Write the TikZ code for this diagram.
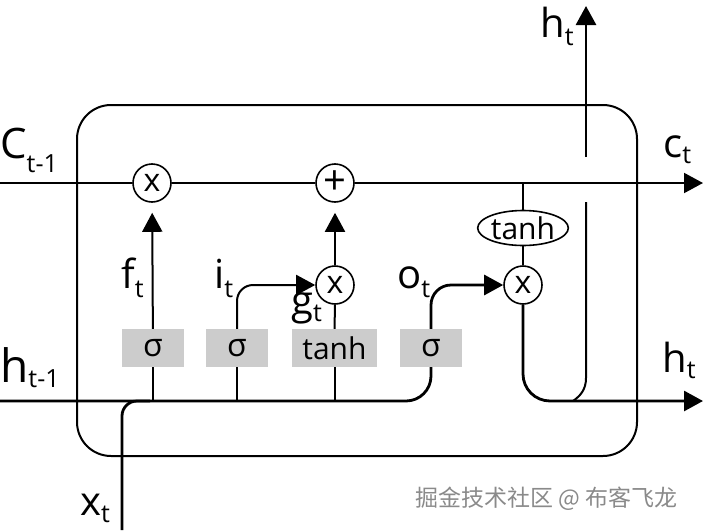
\documentclass[tikz,border=0pt]{standalone}
\usepackage{fontspec}
\setmainfont{Open Sans}
\newfontfamily\cjk{Noto Sans CJK SC}
\usetikzlibrary{arrows.meta,shapes.geometric}
\definecolor{boxgray}{HTML}{CCCCCC}
\definecolor{wmgray}{HTML}{8A8A8A}
\newcommand{\lbl}[4]{{\fontsize{#1}{#1}\selectfont #2}\raisebox{#3}{\fontsize{25}{25}\selectfont #4}}
\begin{document}
\begin{tikzpicture}[x=1pt,y=-1pt,
  thin line/.style={line width=2pt},
  thick line/.style={line width=2.8pt},
  tip/.style={-{Triangle[length=19pt,width=20pt]}},
  opcircle/.style={circle,draw,line width=1.6pt,fill=white,minimum size=38pt,inner sep=0pt,font=\fontsize{32}{32}\selectfont},
  gatebox/.style={rectangle,fill=boxgray,minimum height=38pt,inner sep=0pt,font=\fontsize{32}{32}\selectfont},
  lab/.style={anchor=base west,inner sep=0pt}]
\useasboundingbox (0,0) rectangle (703,530);

% main cell box
\draw[line width=2pt,rounded corners=34pt] (77,105) rectangle (637,456);

% nodes
\node[opcircle] (mf) at (152,183) {\raisebox{1pt}{x}};
\node[opcircle,font=\fontsize{40}{40}\selectfont] (pl) at (335,183) {\raisebox{1pt}{+}};
\node[opcircle] (mi) at (335,285) {\raisebox{1pt}{x}};
\node[opcircle] (mo) at (523,285) {\raisebox{1pt}{x}};
\node[ellipse,draw,line width=1.6pt,fill=white,minimum width=90pt,minimum height=35pt,inner sep=0pt,font=\fontsize{30}{30}\selectfont] (th) at (523,228) {tanh};
\node[gatebox,minimum width=62pt] (s1) at (153,348) {σ};
\node[gatebox,minimum width=62pt] (s2) at (237,348) {σ};
\node[gatebox,minimum width=85pt,font=\fontsize{30}{30}\selectfont] (s3) at (334.5,348) {tanh};
\node[gatebox,minimum width=62pt] (s4) at (431,348) {σ};

% coordinates
\coordinate (cin) at (0,183);
\coordinate (cout) at (703,183);
\coordinate (ct) at (523,183);
\coordinate (hin) at (0,401);
\coordinate (hout) at (703,401);
\coordinate (xin) at (122,530);
\coordinate (xj) at (150,401);
\coordinate (j1) at (153,401);
\coordinate (j2) at (237,401);
\coordinate (j3) at (334.5,401);
\coordinate (hc) at (431,401);
\coordinate (up1) at (586,202);
\coordinate (up2) at (586,378);
\coordinate (upj) at (573,401);
\coordinate (up3) at (586,157);
\coordinate (uptip) at (586,6);

% label g_t (under arrows)
\node[lab] (gl) at (291,314) {\lbl{40}{g}{-7pt}{t}};

% cell state line
\draw[thin line] (cin) -- (mf);
\draw[thin line] (mf) -- (pl);
\draw[thin line,tip] (pl) -- (cout);
\draw[thin line] (ct) -- (th);
\draw[thin line] (th) -- (mo);

% hidden state input
\draw[thick line,rounded corners=25pt] (hin) -- (hc) -- (s4.south);
\draw[thick line,rounded corners=15pt] (xin) |- (xj);
\draw[thin line] (j1) -- (s1);
\draw[thin line] (j2) -- (s2);
\draw[thin line] (j3) -- (s3);

% gates
\draw[thin line,tip,shorten >=10pt] (s1) -- (mf);
\draw[thin line,tip,rounded corners=16pt] (s2.north) |- (mi.west);
\draw[thin line] (s3) -- (mi);
\draw[thin line,tip,shorten >=10pt] (mi) -- (pl);
\draw[thick line,tip,rounded corners=20pt] (s4.north) |- (mo.west);

% output
\draw[thick line,tip,rounded corners=27pt] (mo.south) |- (hout);
\draw[thin line] (up1) -- (up2) .. controls (586,390) and (580,396) .. (upj);
\draw[thick line,tip] (up3) -- (uptip);

% labels
\node[lab] (lc0) at (0,158) {\lbl{42}{C}{-14pt}{t-1}};
\node[lab] (lc1) at (663,157) {\lbl{40}{c}{-6pt}{t}};
\node[lab] (lh2) at (540,37) {\lbl{40}{h}{-8pt}{t}};
\node[lab] (lf) at (121,288) {\lbl{40}{f}{-9pt}{t}};
\node[lab] (li) at (214,288) {\lbl{40}{i}{-9pt}{t}};
\node[lab] (lo) at (397,288) {\lbl{40}{o}{-9pt}{t}};
\node[lab] (lh0) at (0,382) {\lbl{46}{h}{-5pt}{t-1}};
\node[lab] (lh1) at (662,372) {\lbl{40}{h}{-6pt}{t}};
\node[lab] (lx) at (80,515) {\lbl{40}{x}{-7pt}{t}};

% watermark
\node[anchor=west,inner sep=0pt,text=wmgray,font=\cjk\fontsize{23}{23}\selectfont] (wm) at (415,499) {掘金技术社区 @ 布客飞龙};
\end{tikzpicture}
\end{document}
